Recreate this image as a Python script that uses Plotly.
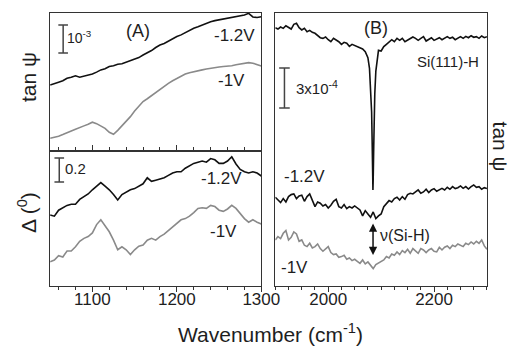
import plotly.graph_objects as go

# ---------------- Panel A: 1050-1300 cm-1 ----------------
wn_a = [1050, 1055, 1060, 1065, 1070, 1075, 1080, 1085, 1090, 1095,
        1100, 1105, 1110, 1115, 1120, 1125, 1130, 1135, 1140, 1145,
        1150, 1155, 1160, 1165, 1170, 1175, 1180, 1185, 1190, 1195,
        1200, 1205, 1210, 1215, 1220, 1225, 1230, 1235, 1240, 1245,
        1250, 1255, 1260, 1265, 1270, 1275, 1280, 1285, 1290, 1295, 1300]

# tan(psi), units of 1e-3 (offset arbitrary)
tanpsi_a_12 = [2.32, 2.36, 2.42, 2.47, 2.56, 2.60, 2.65, 2.60, 2.64, 2.69,
               2.71, 2.78, 2.86, 2.90, 2.98, 3.01, 3.06, 3.08, 3.13, 3.20,
               3.25, 3.30, 3.39, 3.46, 3.55, 3.66, 3.75, 3.80, 3.89, 3.96,
               4.05, 4.11, 4.20, 4.27, 4.35, 4.40, 4.46, 4.53, 4.58, 4.62,
               4.65, 4.68, 4.70, 4.72, 4.76, 4.78, 4.82, 4.88, 4.75, 4.73, 4.76]
tanpsi_a_10 = [0.42, 0.45, 0.49, 0.55, 0.63, 0.68, 0.74, 0.79, 0.86, 0.92,
               0.99, 0.94, 0.85, 0.77, 0.63, 0.56, 0.70, 0.86, 1.01, 1.19,
               1.39, 1.58, 1.73, 1.83, 1.94, 2.06, 2.18, 2.28, 2.38, 2.47,
               2.56, 2.64, 2.71, 2.76, 2.80, 2.83, 2.86, 2.89, 2.92, 2.94,
               2.96, 2.98, 2.99, 3.01, 3.04, 3.06, 3.08, 3.12, 3.10, 3.04, 3.00]

# Delta, degrees (offset arbitrary)
delta_a_12 = [0.60, 0.59, 0.64, 0.66, 0.68, 0.69, 0.69, 0.73, 0.75, 0.775,
              0.81, 0.84, 0.87, 0.84, 0.81, 0.77, 0.725, 0.77, 0.79, 0.81,
              0.82, 0.84, 0.86, 0.91, 0.88, 0.89, 0.90, 0.91, 0.93, 0.95,
              0.96, 0.96, 0.99, 1.01, 1.03, 1.04, 1.05, 1.04, 1.07, 1.06,
              1.03, 1.03, 1.05, 1.085, 1.025, 0.98, 0.96, 0.95, 0.96, 0.95, 0.925]
delta_a_10 = [0.21, 0.225, 0.26, 0.25, 0.30, 0.30, 0.335, 0.38, 0.405, 0.42,
              0.45, 0.52, 0.56, 0.51, 0.46, 0.39, 0.31, 0.335, 0.31, 0.27,
              0.31, 0.34, 0.35, 0.39, 0.405, 0.39, 0.42, 0.44, 0.47, 0.50,
              0.53, 0.56, 0.57, 0.59, 0.62, 0.655, 0.66, 0.655, 0.68, 0.67,
              0.64, 0.63, 0.65, 0.68, 0.655, 0.61, 0.57, 0.54, 0.56, 0.54, 0.525]

# ---------------- Panel B: 1900-2300 cm-1 ----------------
wn_b = [1900, 1905, 1910, 1915, 1920, 1925, 1930, 1935, 1940, 1945,
        1950, 1955, 1960, 1965, 1970, 1975, 1980, 1985, 1990, 1995,
        2000, 2005, 2010, 2015, 2020, 2025, 2030, 2035, 2040, 2045,
        2050, 2055, 2060, 2065, 2070, 2075, 2080, 2085, 2090, 2095,
        2100, 2105, 2110, 2115, 2120, 2125, 2130, 2135, 2140, 2145,
        2150, 2155, 2160, 2165, 2170, 2175, 2180, 2185, 2190, 2195,
        2200, 2205, 2210, 2215, 2220, 2225, 2230, 2235, 2240, 2245,
        2250, 2255, 2260, 2265, 2270, 2275, 2280, 2285, 2290, 2295, 2300]

# Si(111)-H reference spectrum, tan(psi) in units of 1e-4 (sharp Si-H stretch)
wn_ref = [1900, 1905, 1910, 1915, 1920, 1925, 1930, 1935, 1940, 1945,
          1950, 1955, 1960, 1965, 1970, 1975, 1980, 1985, 1990, 1995,
          2000, 2005, 2010, 2015, 2020, 2025, 2030, 2035, 2040, 2045,
          2050, 2055, 2060, 2065, 2070, 2075, 2078, 2080, 2082, 2083,
          2084, 2084.5, 2085, 2086, 2087, 2088, 2090, 2093, 2095,
          2100, 2105, 2110, 2115, 2120, 2125, 2130, 2135, 2140, 2145,
          2150, 2155, 2160, 2165, 2170, 2175, 2180, 2185, 2190, 2195,
          2200, 2205, 2210, 2215, 2220, 2225, 2230, 2235, 2240, 2245,
          2250, 2255, 2260, 2265, 2270, 2275, 2280, 2285, 2290, 2295, 2300]
tanpsi_ref = [19.45, 19.35, 19.50, 19.40, 19.60, 19.45, 19.35, 19.70, 19.78, 19.45,
              19.28, 19.40, 19.15, 19.25, 19.10, 19.03, 18.85, 18.70, 18.65, 18.75,
              18.55, 18.40, 18.65, 18.55, 18.40, 18.20, 18.35, 18.28, 18.05, 18.20,
              18.10, 18.00, 17.95, 17.85, 17.65, 17.20, 16.40, 15.15, 13.15, 11.00,
              8.60, 7.28, 8.10, 10.50, 12.80, 14.50, 16.20, 17.30, 17.75,
              17.70, 18.03, 18.20, 18.35, 18.55, 18.40, 18.65, 18.50, 18.65, 18.40,
              18.50, 18.65, 18.75, 18.65, 18.50, 18.65, 18.78, 18.45, 18.55, 18.70,
              18.50, 18.60, 18.70, 18.55, 18.65, 18.78, 18.65, 18.73, 18.55, 18.65,
              18.78, 18.65, 18.80, 18.70, 18.85, 18.73, 18.78, 18.65, 18.83, 18.70, 18.78]

tanpsi_b_12 = [6.73, 6.53, 6.33, 6.63, 6.38, 6.78, 6.93, 6.98, 6.63, 6.83,
               6.88, 6.43, 6.78, 6.98, 6.48, 6.03, 6.38, 6.28, 6.08, 6.18,
               5.93, 6.13, 6.43, 6.58, 6.03, 5.93, 6.18, 5.88, 6.03, 5.93,
               6.08, 5.93, 5.78, 5.33, 5.73, 5.48, 5.23, 5.63, 5.13, 5.33,
               5.48, 6.03, 6.28, 6.48, 6.38, 6.63, 6.73, 6.53, 6.78, 6.58,
               6.93, 7.03, 6.98, 7.13, 7.28, 7.03, 7.13, 7.33, 7.08, 7.28,
               7.38, 7.18, 7.28, 7.40, 7.28, 7.48, 7.33, 7.53, 7.38, 7.45,
               7.58, 7.40, 7.53, 7.35, 7.53, 7.65, 7.48, 7.53, 7.33, 7.45, 7.38]
tanpsi_b_10 = [3.53, 3.78, 3.63, 4.03, 4.23, 3.53, 3.73, 4.13, 3.98, 3.43,
               3.53, 3.13, 3.03, 3.28, 2.93, 3.03, 3.23, 2.88, 2.68, 2.83,
               3.03, 2.58, 2.43, 2.48, 2.23, 2.28, 2.38, 2.08, 2.18, 1.98,
               2.08, 1.93, 1.78, 2.03, 1.73, 1.88, 1.58, 1.38, 1.68, 1.78,
               1.88, 2.03, 2.28, 2.18, 2.48, 2.38, 2.63, 2.43, 2.73, 2.58,
               2.83, 2.53, 2.88, 2.68, 2.53, 2.88, 2.78, 2.58, 2.78, 2.88,
               2.68, 2.63, 2.98, 2.78, 2.98, 3.08, 2.88, 3.13, 3.03, 3.23,
               3.13, 3.03, 3.28, 3.18, 3.38, 3.23, 3.43, 3.28, 3.53, 3.08, 2.83]

# scale bars: (x, y_low, y_high, half cap width)
bar_a_top = (1065.4, 3.46, 4.46, 5.7)      # 1e-3 in tan(psi)
bar_a_bot = (1060.8, 0.875, 1.075, 5.7)    # 0.2 deg in Delta
bar_b = (1917.3, 13.43, 16.43, 10.0)       # 3e-4 in tan(psi)
arrow_b = (2084.7, 2.40, 4.88)             # nu(Si-H) marker

BLACK = "#111111"
GREY = "#8a8a8a"
FRAME = "#333333"
TXT = "#1e1e1e"
FONT = "Liberation Sans, Arial, sans-serif"

fig = go.Figure()

def line(x, y, color, xa, ya):
    fig.add_trace(go.Scatter(x=x, y=y, mode="lines", xaxis=xa, yaxis=ya,
                             line=dict(color=color, width=1.6),
                             showlegend=False, hoverinfo="skip"))

line(wn_a, tanpsi_a_12, BLACK, "x", "y")
line(wn_a, tanpsi_a_10, GREY, "x", "y")
line(wn_a, delta_a_12, BLACK, "x2", "y2")
line(wn_a, delta_a_10, GREY, "x2", "y2")
line(wn_ref, tanpsi_ref, BLACK, "x3", "y3")
line(wn_b, tanpsi_b_12, BLACK, "x3", "y3")
line(wn_b, tanpsi_b_10, GREY, "x3", "y3")

# axis domains (paper fractions)
XA = [52 / 532, 271 / 532]
XB = [285.5 / 532, 505 / 532]
Y_BOT = (348 - 286) / 348
Y_MID = (348 - 150.5) / 348
Y_TOP = (348 - 12.5) / 348

frame = dict(showline=True, linecolor=FRAME, linewidth=1.4, mirror=True,
             showgrid=False, zeroline=False)
tickfont = dict(family=FONT, size=17, color=TXT)

fig.update_layout(
    width=532, height=348,
    margin=dict(l=0, r=0, t=0, b=0),
    paper_bgcolor="white", plot_bgcolor="white",
    xaxis=dict(domain=XA, range=[1050, 1300], anchor="y",
               ticks="inside", ticklen=5, tickcolor=FRAME, tick0=1100, dtick=100,
               showticklabels=False,
               minor=dict(ticks="inside", ticklen=3, tick0=1060, dtick=20, tickcolor=FRAME),
               **frame),
    yaxis=dict(domain=[Y_MID, Y_TOP], range=[-0.02, 4.91], anchor="x",
               ticks="", showticklabels=False, **frame),
    xaxis2=dict(domain=XA, range=[1050, 1300], anchor="y2",
                ticks="outside", ticklen=5, tickcolor=FRAME, tick0=1100, dtick=100,
                tickfont=tickfont, ticklabelstandoff=-8,
                minor=dict(ticks="outside", ticklen=3, tick0=1060, dtick=20, tickcolor=FRAME),
                **frame),
    yaxis2=dict(domain=[Y_BOT, Y_MID], range=[0.008, 1.1375], anchor="x2",
                ticks="", showticklabels=False, **frame),
    xaxis3=dict(domain=XB, range=[1900, 2300], anchor="y3",
                ticks="outside", ticklen=5, tickcolor=FRAME, tick0=2000, dtick=200,
                tickfont=tickfont, ticklabelstandoff=-8,
                minor=dict(ticks="outside", ticklen=3, tick0=1900, dtick=25, tickcolor=FRAME),
                **frame),
    yaxis3=dict(domain=[Y_BOT, Y_TOP], range=[0.075, 20.59], anchor="x3",
                ticks="", showticklabels=False, **frame),
)

# scale bars with end caps
shapes = []
for (bx, y0, y1, hw), xr, yr in [(bar_a_top, "x", "y"), (bar_a_bot, "x2", "y2"), (bar_b, "x3", "y3")]:
    st = dict(type="line", xref=xr, yref=yr, line=dict(color="#444444", width=1.5))
    shapes.append(dict(st, x0=bx, x1=bx, y0=y0, y1=y1))
    shapes.append(dict(st, x0=bx - hw, x1=bx + hw, y0=y0, y1=y0))
    shapes.append(dict(st, x0=bx - hw, x1=bx + hw, y0=y1, y1=y1))
fig.update_layout(shapes=shapes)

def txt(s, x, y, size=16, anchor="center", angle=0):
    fig.add_annotation(text=s, x=x / 532, y=1 - y / 348, xref="paper", yref="paper",
                       showarrow=False, xanchor=anchor, yanchor="middle",
                       textangle=angle, font=dict(family=FONT, size=size, color=TXT))

# axis titles
txt("tan ψ", 29, 77, size=21, angle=-90)
txt("Δ (<sup>0</sup>)", 28, 213, size=21, angle=-90)
txt("tan ψ", 520, 147, size=21, angle=90)
txt("Wavenumber (cm<sup>-1</sup>)", 280.5, 333, size=21)

# panel labels and curve labels
txt("(A)", 143, 31, size=18)
txt("(B)", 390, 28, size=18)
txt("-1.2V", 243, 35.5, size=17)
txt("-1V", 240, 81, size=17)
txt("-1.2V", 230, 178, size=17)
txt("-1V", 232, 231, size=17)
txt("-1.2V", 316, 176, size=17)
txt("-1V", 305, 267, size=17)
txt("Si(111)-H", 465, 62, size=15)
txt("10<sup>-3</sup>", 67, 37, size=14, anchor="left")
txt("0.2", 65, 168.5, size=15, anchor="left")
txt("3x10<sup>-4</sup>", 305, 87, size=15, anchor="left")
txt("ν(Si-H)", 392, 235, size=16, anchor="left")

# double-headed arrow marking the Si-H stretch
ax_x, ay0, ay1 = arrow_b
fig.add_annotation(x=ax_x, y=ay0, ax=ax_x, ay=ay1, xref="x3", yref="y3",
                   axref="x3", ayref="y3", text="", showarrow=True,
                   arrowside="end+start", arrowhead=2, startarrowhead=2,
                   arrowsize=1.1, startarrowsize=1.1, arrowwidth=1.5,
                   arrowcolor="#111111")

fig.write_html("out.html")
